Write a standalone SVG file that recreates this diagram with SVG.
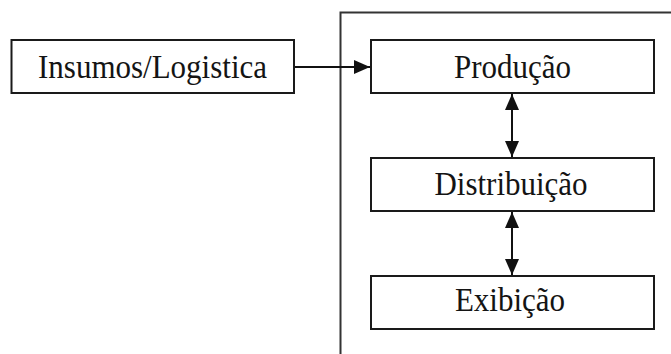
<svg xmlns="http://www.w3.org/2000/svg" width="671" height="354" viewBox="0 0 671 354">
  <style>
    .box { fill: #ffffff; stroke: #1a1a1a; stroke-width: 2; }
    .lbl { font-family: "Liberation Serif", "Times New Roman", serif; font-size: 31px; fill: #141414; text-anchor: middle; }
    .conn { fill: none; stroke: #111111; stroke-width: 2; }
    .frame { fill: none; stroke: #333333; stroke-width: 2; }
  </style>
  <defs>
    <marker id="ah" viewBox="0 0 16 14" refX="16" refY="7" markerWidth="16" markerHeight="14" markerUnits="userSpaceOnUse" orient="auto-start-reverse">
      <path d="M0,0 L16,7 L0,14 z" fill="#111111"/>
    </marker>
  </defs>
  <rect width="671" height="354" fill="#ffffff"/>
  <path class="frame" d="M340.5,354 V12.5 H671"/>
  <g id="connectors">
    <path class="conn" d="M294,67 H370" marker-end="url(#ah)"/>
    <path class="conn" d="M512,94 V157" marker-start="url(#ah)" marker-end="url(#ah)"/>
    <path class="conn" d="M512,212 V275" marker-start="url(#ah)" marker-end="url(#ah)"/>
  </g>
  <g id="insumos">
    <rect class="box" x="11.5" y="40" width="282.5" height="53"/>
    <text class="lbl" transform="translate(152.5,78) scale(1,1.08)" textLength="229" lengthAdjust="spacingAndGlyphs">Insumos/Logistica</text>
  </g>
  <g id="producao">
    <rect class="box" x="371" y="40" width="283" height="53"/>
    <text class="lbl" transform="translate(512.5,78) scale(1,1.08)">Produção</text>
  </g>
  <g id="distribuicao">
    <rect class="box" x="371" y="158" width="283" height="53"/>
    <text class="lbl" transform="translate(511,195) scale(1,1.08)">Distribuição</text>
  </g>
  <g id="exibicao">
    <rect class="box" x="371" y="276" width="283" height="53"/>
    <text class="lbl" transform="translate(510,311) scale(1,1.08)">Exibição</text>
  </g>
</svg>
